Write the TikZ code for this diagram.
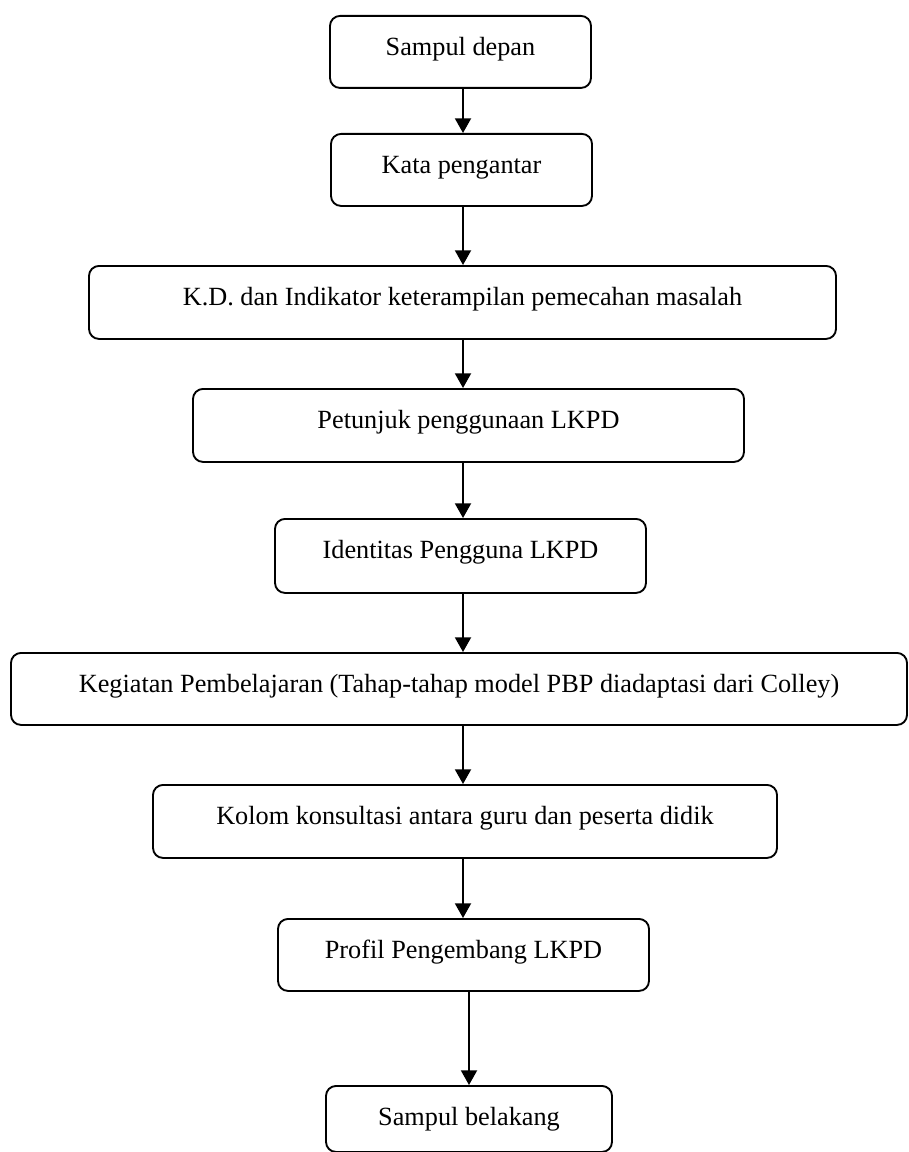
\documentclass[tikz,border=0pt]{standalone}
\usepackage{fontspec}
\setmainfont{Liberation Serif}
\usetikzlibrary{arrows.meta}
\newdimen\pxu
\pxu=0.75pt
\tikzset{
  box/.style={draw, line width=1.4pt, rounded corners=7.5pt, inner xsep=0pt, inner ysep=0pt,
    anchor=north, text height=39.5\pxu, font=\fontsize{19.7pt}{24pt}\selectfont},
  arr/.style={draw, line width=1.4pt, -{Triangle[width=12pt,length=11pt]}}
}
\begin{document}
\begin{tikzpicture}[x=0.75pt,y=-0.75pt]
\useasboundingbox (0,0) rectangle (909,1152);
\node[box, minimum width=261\pxu, text depth=32.5\pxu] (b1) at (460.5,15) {Sampul depan};
\node[box, minimum width=261\pxu, text depth=32.5\pxu] (b2) at (461.5,133) {Kata pengantar};
\node[box, minimum width=747\pxu, text depth=33.5\pxu] (b3) at (462.5,265) {K.D. dan Indikator keterampilan pemecahan masalah};
\node[box, minimum width=551\pxu, text depth=33.5\pxu] (b4) at (468.5,388) {Petunjuk penggunaan LKPD};
\node[box, minimum width=371\pxu, text depth=34.5\pxu] (b5) at (460.5,518) {Identitas Pengguna LKPD};
\node[box, minimum width=896\pxu, text depth=32.5\pxu] (b6) at (459,652) {Kegiatan Pembelajaran (Tahap-tahap model PBP diadaptasi dari Colley)};
\node[box, minimum width=624\pxu, text depth=33.5\pxu] (b7) at (465,784) {Kolom konsultasi antara guru dan peserta didik};
\node[box, minimum width=371\pxu, text depth=32.5\pxu] (b8) at (463.5,918) {Profil Pengembang LKPD};
\node[box, minimum width=286\pxu, text depth=26.5\pxu] (b9) at (469,1085) {Sampul belakang};
\coordinate (ax) at (463,0);
\draw[arr] (b1.south -| ax) -- (b2.north -| ax);
\draw[arr] (b2.south -| ax) -- (b3.north -| ax);
\draw[arr] (b3.south -| ax) -- (b4.north -| ax);
\draw[arr] (b4.south -| ax) -- (b5.north -| ax);
\draw[arr] (b5.south -| ax) -- (b6.north -| ax);
\draw[arr] (b6.south -| ax) -- (b7.north -| ax);
\draw[arr] (b7.south -| ax) -- (b8.north -| ax);
\draw[arr] (b8.south -| b9.north) -- (b9.north);
\end{tikzpicture}
\end{document}
